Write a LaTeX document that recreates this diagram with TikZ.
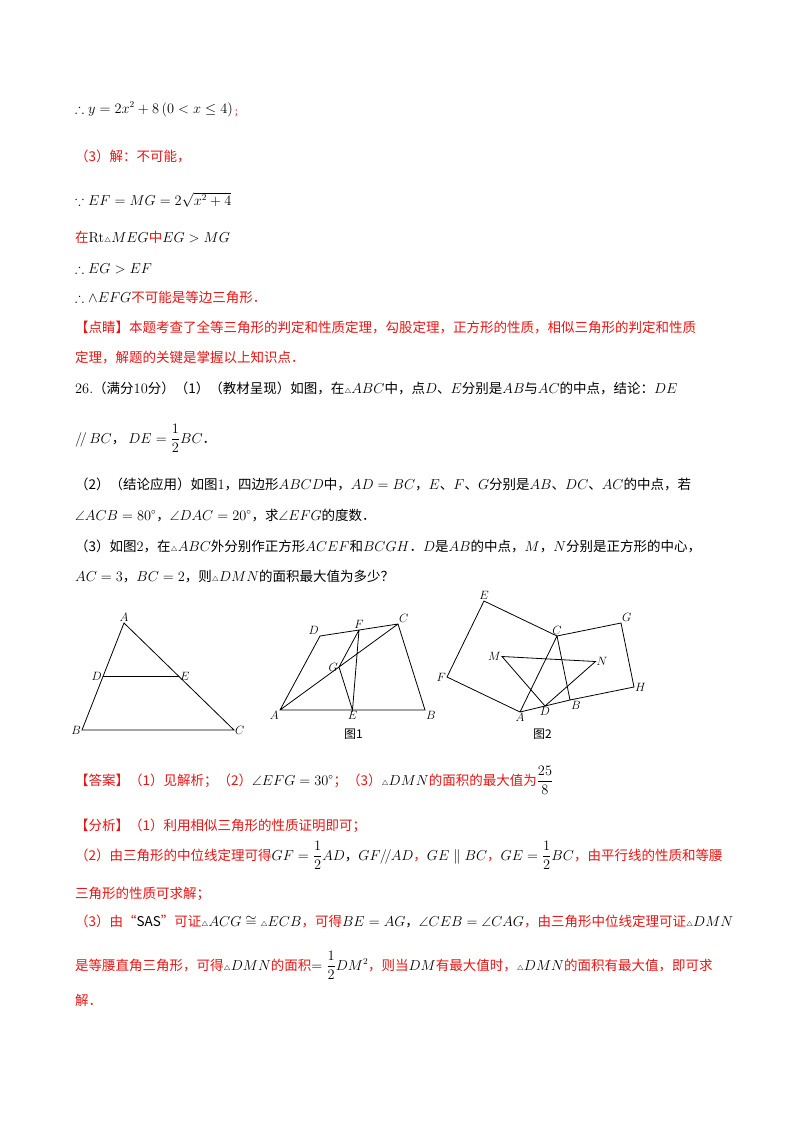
\documentclass[tikz,border=0pt]{standalone}
\usepackage{amsmath,amssymb}
\usepackage[no-math]{fontspec}
\setmainfont{Noto Sans CJK SC}
\usetikzlibrary{calc}
\newcommand{\tri}{{\scriptscriptstyle\triangle}}
\definecolor{rd}{RGB}{235,20,20}
\begin{document}
\begin{tikzpicture}[x=1pt,y=-1pt,
  t/.style={anchor=base west,inner sep=0,font=\fontsize{13.5}{16}\selectfont},
  r/.style={t,text=rd},
  lb/.style={font=\fontsize{12}{14}\selectfont,inner sep=1pt,execute at begin node=$,execute at end node=$},
  fig/.style={line width=0.8pt}]
\useasboundingbox (0,0) rectangle (800,1132);
\fill[white] (0,0) rectangle (800,1132);
% top part
\node[t] (l1) at (75,113) {$\therefore y=2x^2+8\left(0<x\le 4\right)$};
\node[anchor=south west,inner sep=0,font=\fontsize{9}{9}\selectfont,text=rd] (l1b) at ([xshift=1pt]l1.south east) {；};
\node[r] (l2) at (75,161) {（3）解：不可能，};
\node[t] (l3) at (75,205) {$\because EF=MG=2\sqrt{x^2+4}$};
\node[r] (l4) at (75,242) {在\textcolor{black}{$\mathrm{Rt}\tri MEG$}中\textcolor{black}{$EG>MG$}};
\node[t] (l5) at (75,273) {$\therefore EG>EF$};
\node[t] (l6) at (75,302) {$\therefore\wedge EFG$\textcolor{rd}{不可能是等边三角形．}};
\node[r] (l7) at (75,332) {【点睛】本题考查了全等三角形的判定和性质定理，勾股定理，正方形的性质，相似三角形的判定和性质};
\node[r] (l8) at (75,362) {定理，解题的关键是掌握以上知识点．};
% problem
\node[t] (p1) at (75,393) {$26.$（满分$10$分）（1）（教材呈现）如图，在$\tri ABC$中，点$D$、$E$分别是$AB$与$AC$的中点，结论：$DE$};
\node[t] (p2) at (75,443) {$/\!/\,BC$，\ $DE=\dfrac{1}{2}BC$．};
\node[t] (p3) at (75,489) {（2）（结论应用）如图$1$，四边形$ABCD$中，$AD=BC$，$E$、$F$、$G$分别是$AB$、$DC$、$AC$的中点，若};
\node[t] (p4) at (75,520) {$\angle ACB=80^\circ$，$\angle DAC=20^\circ$，求$\angle EFG$的度数．};
\node[t] (p5) at (75,551) {（3）如图$2$，在$\tri ABC$外分别作正方形$ACEF$和$BCGH$．$D$是$AB$的中点，$M$，$N$分别是正方形的中心，};
\node[t] (p6) at (75,581) {$AC=3$，$BC=2$，则$\tri DMN$的面积最大值为多少？};
% figure 0
\coordinate (A0) at (124,623); \coordinate (B0) at (82,730); \coordinate (C0) at (234,730);
\coordinate (D0) at ($(A0)!0.5!(B0)$); \coordinate (E0) at ($(A0)!0.5!(C0)$);
\draw[fig] (A0)--(B0)--(C0)--cycle (D0)--(E0);
\node[lb,above] at (A0) {A}; \node[lb,left] at (D0) {D}; \node[lb,right] at (E0) {E};
\node[lb,left] at (B0) {B}; \node[lb,right] at (C0) {C};
% figure 1
\coordinate (A1) at (280,710); \coordinate (B1) at (425,710); \coordinate (C1) at (398,624); \coordinate (D1) at (320,636);
\coordinate (F1) at ($(D1)!0.5!(C1)$); \coordinate (G1) at ($(A1)!0.5!(C1)$); \coordinate (E1) at ($(A1)!0.5!(B1)$);
\draw[fig] (A1)--(D1)--(C1)--(B1)--cycle (A1)--(C1) (F1)--(G1)--(E1)--(F1);
\node[lb,below left] at (A1) {A}; \node[lb,below] at (E1) {E}; \node[lb,below right] at (B1) {B};
\node[lb,above right] at (C1) {C}; \node[lb,above] at (F1) {F}; \node[lb,above left] at (D1) {D}; \node[lb,left] at (G1) {G};
\node[t] at (344,738) {\fontsize{12}{14}\selectfont 图1};
% figure 2
\coordinate (A2) at (520,712); \coordinate (B2) at (570,700); \coordinate (C2) at (557,636);
\coordinate (E2) at (484,601); \coordinate (F2) at (447,677);
\coordinate (G2) at (621,623); \coordinate (H2) at (634,687);
\coordinate (M2) at ($(A2)!0.5!(E2)$); \coordinate (N2) at ($(B2)!0.5!(G2)$); \coordinate (D2) at ($(A2)!0.5!(B2)$);
\draw[fig] (A2)--(C2)--(E2)--(F2)--cycle (C2)--(G2)--(H2)--(B2)--cycle (A2)--(B2);
\draw[fig] (M2)--(N2)--(D2)--cycle;
\node[lb,below] at (A2) {A}; \node[lb,below] at (D2) {D}; \node[lb,below right] at (B2) {B};
\node[lb,above] at (C2) {C}; \node[lb,above] at (E2) {E}; \node[lb,left] at (F2) {F};
\node[lb,above right] at (G2) {G}; \node[lb,right] at (H2) {H}; \node[lb,left] at (M2) {M}; \node[lb,right] at (N2) {N};
\node[t] at (533,738) {\fontsize{12}{14}\selectfont 图2};
% answers
\node[r] (a1) at (75,785) {【答案】（1）见解析；（2）\textcolor{black}{$\angle EFG=30^\circ$}；（3）\textcolor{black}{$\tri DMN$}的面积的最大值为\textcolor{black}{$\dfrac{25}{8}$}};
\node[r] (a2) at (75,830) {【分析】（1）利用相似三角形的性质证明即可；};
\node[r] (a3) at (75,860) {（2）由三角形的中位线定理可得\textcolor{black}{$GF=\dfrac{1}{2}AD$，$GF/\!/AD$}，\textcolor{black}{$GE\parallel BC$}，\textcolor{black}{$GE=\dfrac{1}{2}BC$}，由平行线的性质和等腰};
\node[r] (a4) at (75,898) {三角形的性质可求解；};
\node[r] (a5) at (75,926) {（3）由“\textcolor{black}{SAS}”可证\textcolor{black}{$\tri ACG\cong\tri ECB$}，可得\textcolor{black}{$BE=AG$，$\angle CEB=\angle CAG$}，由三角形中位线定理可证\textcolor{black}{$\tri DMN$}};
\node[r] (a6) at (75,970) {是等腰直角三角形，可得\textcolor{black}{$\tri DMN$}的面积\textcolor{black}{$=\dfrac{1}{2}DM^2$}，则当\textcolor{black}{$DM$}有最大值时，\textcolor{black}{$\tri DMN$}的面积有最大值，即可求};
\node[r] (a7) at (75,1005) {解．};
\end{tikzpicture}
\end{document}
